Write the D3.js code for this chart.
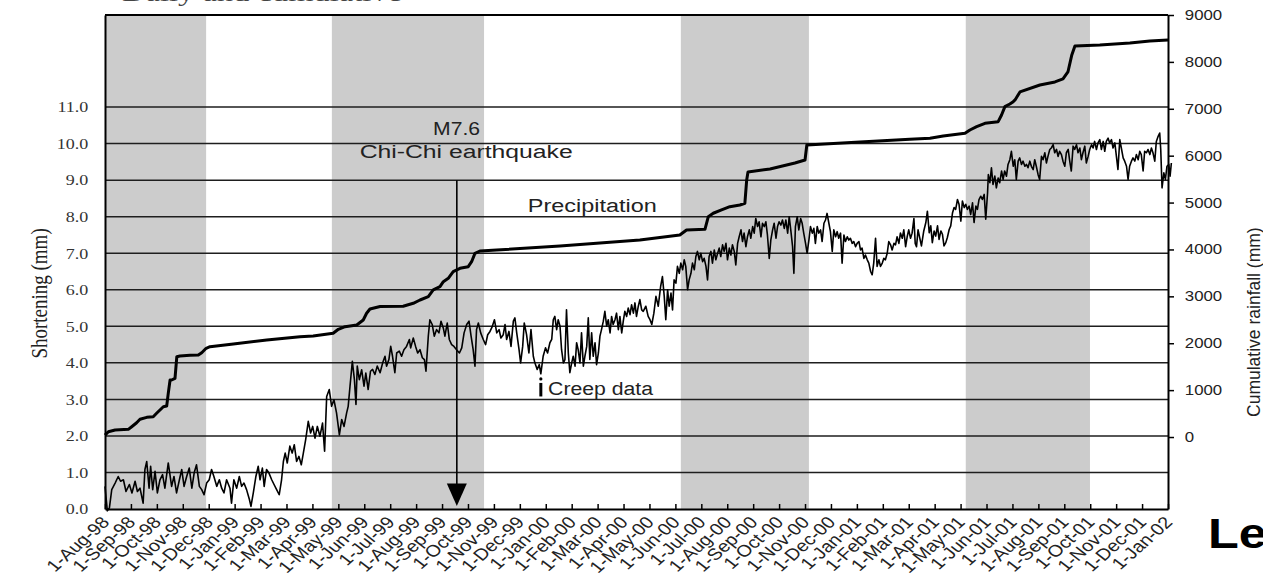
<!DOCTYPE html>
<html><head><meta charset="utf-8">
<script src="https://cdn.jsdelivr.net/npm/d3@7"></script>
<style>body{margin:0;background:#fff;} svg{display:block;}</style>
</head><body><svg id="c" width="1263" height="580"></svg>
<script>
// ---------------- DATA ----------------
const monthLabels = ["1-Aug-98","1-Sep-98","1-Oct-98","1-Nov-98","1-Dec-98",
 "1-Jan-99","1-Feb-99","1-Mar-99","1-Apr-99","1-May-99","1-Jun-99","1-Jul-99","1-Aug-99","1-Sep-99","1-Oct-99","1-Nov-99","1-Dec-99",
 "1-Jan-00","1-Feb-00","1-Mar-00","1-Apr-00","1-May-00","1-Jun-00","1-Jul-00","1-Aug-00","1-Sep-00","1-Oct-00","1-Nov-00","1-Dec-00",
 "1-Jan-01","1-Feb-01","1-Mar-01","1-Apr-01","1-May-01","1-Jun-01","1-Jul-01","1-Aug-01","1-Sep-01","1-Oct-01","1-Nov-01","1-Dec-01",
 "1-Jan-02"];
const shorteningTicks = [0,1,2,3,4,5,6,7,8,9,10,11];
const rainfallTicks = [0,1000,2000,3000,4000,5000,6000,7000,8000,9000];
// rainy-season shading, in months since 1-Aug-98
const rainySeasonStart = [0, 8.75, 22.21, 33.20];
const rainySeasonEnd   = [3.90, 14.62, 27.15, 37.99];
const quakeMonth = 13.57; // Chi-Chi earthquake, 21-Sep-99
// cumulative rainfall (mm): [month since 1-Aug-98, value]
const precipitation = [[0,40],[0.13,113],[0.39,149],[0.90,164],[1.03,220],[1.22,305],[1.35,378],[1.61,420],[1.86,433],[1.99,506],
 [2.12,576],[2.25,646],[2.38,661],[2.44,932],[2.51,1216],[2.57,1216],[2.70,1252],[2.77,1713],[2.89,1728],[3.28,1743],[3.60,1749],
 [3.73,1798],[3.90,1892],[4.05,1927],[4.95,1984],[6.24,2069],[7.52,2139],[8.03,2154],[8.80,2212],[9.00,2297],[9.26,2353],[9.71,2389],
 [9.96,2496],[10.09,2639],[10.22,2730],[10.61,2784],[11.50,2790],[11.89,2852],[12.15,2922],[12.47,2993],[12.66,3136],[12.92,3206],
 [13.05,3313],[13.24,3385],[13.43,3526],[13.69,3598],[14.01,3633],[14.14,3739],[14.27,3918],[14.46,3967],[15.11,3989],[17.55,4074],
 [19.09,4138],[20.63,4202],[22.17,4309],[22.43,4415],[23.14,4430],[23.27,4699],[23.46,4772],[23.78,4842],[24.10,4912],[24.49,4949],
 [24.68,4985],[24.75,5482],[24.80,5652],[25.65,5716],[26.61,5844],[27.00,5908],[27.07,6228],[29.12,6292],[31.04,6350],[31.82,6371],
 [32.33,6420],[33.17,6478],[33.36,6548],[33.62,6619],[33.94,6691],[34.45,6725],[34.58,6868],[34.71,7045],[34.90,7103],[35.03,7152],
 [35.10,7188],[35.29,7359],[36.06,7508],[36.64,7572],[36.95,7636],[37.14,7785],[37.29,8148],[37.41,8340],[38.37,8361],[39.53,8404],
 [40.30,8447],[41.00,8468]];
// creep (shortening, mm): [month since 1-Aug-98, value]
const creep = [[0.00,0.62],[0.09,-0.05],[0.17,0.03],[0.26,0.53],[0.39,0.71],[0.51,0.89],[0.60,0.76],[0.71,0.80],[0.81,0.48],[0.94,0.67],
 [1.04,0.44],[1.16,0.76],[1.25,0.48],[1.35,0.57],[1.47,0.16],[1.54,1.08],[1.61,1.30],[1.70,0.57],[1.76,1.17],[1.84,0.53],[1.93,1.03],
 [2.02,0.44],[2.12,0.80],[2.22,0.94],[2.31,0.57],[2.44,1.26],[2.57,0.62],[2.66,0.89],[2.76,0.44],[2.87,0.80],[2.96,1.08],[3.05,0.62],
 [3.15,0.89],[3.25,1.12],[3.35,0.57],[3.44,0.99],[3.53,1.21],[3.64,0.62],[3.73,0.53],[3.82,0.39],[3.92,0.71],[4.02,0.80],[4.11,1.08],
 [4.20,0.89],[4.31,0.62],[4.41,0.80],[4.50,0.57],[4.59,0.44],[4.69,0.80],[4.82,0.57],[4.88,0.16],[4.97,0.80],[5.08,0.57],[5.18,0.89],
 [5.27,0.62],[5.36,0.71],[5.46,0.53],[5.57,0.26],[5.63,0.07],[5.72,0.44],[5.82,0.89],[5.91,1.17],[5.98,0.80],[6.07,1.12],[6.14,0.62],
 [6.23,1.08],[6.32,0.99],[6.43,0.80],[6.52,0.67],[6.62,0.53],[6.72,0.39],[6.81,0.80],[6.88,1.30],[6.95,1.53],[7.03,1.26],[7.13,1.72],
 [7.22,1.53],[7.30,1.76],[7.39,1.30],[7.48,1.44],[7.57,1.21],[7.65,1.53],[7.74,1.90],[7.84,2.40],[7.93,2.08],[8.01,2.26],[8.10,1.94],
 [8.19,2.26],[8.29,1.99],[8.39,2.35],[8.47,1.58],[8.55,3.08],[8.65,3.27],[8.74,2.81],[8.83,2.99],[8.93,2.63],[9.04,2.03],[9.13,2.45],
 [9.22,2.26],[9.32,2.63],[9.38,2.81],[9.45,3.36],[9.54,4.04],[9.62,3.54],[9.68,2.86],[9.73,3.91],[9.81,3.54],[9.90,3.81],[9.99,3.36],
 [10.06,3.72],[10.15,3.27],[10.24,3.77],[10.32,3.82],[10.41,3.68],[10.50,3.91],[10.61,3.73],[10.71,4.00],[10.80,4.18],[10.86,3.91],
 [10.95,4.09],[11.02,4.45],[11.09,4.18],[11.18,3.73],[11.25,4.27],[11.35,4.32],[11.44,4.18],[11.53,4.36],[11.63,4.45],[11.74,4.64],
 [11.79,4.41],[11.89,4.68],[11.98,4.45],[12.06,4.27],[12.15,4.36],[12.24,4.14],[12.32,4.09],[12.38,3.77],[12.47,4.73],[12.53,5.18],
 [12.62,5.05],[12.70,4.73],[12.79,4.91],[12.88,4.82],[12.96,5.14],[13.05,4.95],[13.11,4.73],[13.20,5.09],[13.28,4.64],[13.37,4.50],
 [13.46,4.45],[13.56,4.36],[13.67,4.27],[13.76,4.41],[13.85,4.82],[13.95,5.05],[14.04,5.14],[14.12,4.73],[14.20,4.36],[14.27,3.91],
 [14.33,4.91],[14.40,5.09],[14.49,4.82],[14.59,4.64],[14.68,4.50],[14.76,4.77],[14.85,4.86],[14.94,5.00],[15.02,5.18],[15.11,4.82],
 [15.20,4.91],[15.27,4.68],[15.36,4.77],[15.43,5.05],[15.49,4.64],[15.58,4.86],[15.66,4.45],[15.75,5.14],[15.81,5.23],[15.88,4.82],
 [15.97,4.36],[16.03,4.00],[16.11,4.45],[16.17,5.09],[16.26,4.77],[16.35,4.27],[16.43,4.91],[16.52,4.18],[16.58,4.00],[16.67,3.82],
 [16.75,3.95],[16.81,3.70],[16.90,4.18],[16.99,4.41],[17.07,4.27],[17.16,4.55],[17.23,4.64],[17.29,5.18],[17.35,5.27],[17.42,4.91],
 [17.48,5.18],[17.55,5.00],[17.61,4.36],[17.68,4.00],[17.74,4.09],[17.80,5.45],[17.87,4.27],[17.93,3.73],[18.00,4.00],[18.06,4.18],
 [18.13,3.91],[18.19,4.55],[18.25,4.36],[18.32,4.00],[18.38,4.82],[18.45,3.91],[18.51,4.18],[18.58,4.45],[18.64,5.23],[18.70,4.09],
 [18.77,4.82],[18.83,4.18],[18.90,4.55],[18.96,3.95],[19.03,4.27],[19.09,4.73],[19.15,4.91],[19.22,5.14],[19.28,5.41],[19.35,5.00],
 [19.41,5.18],[19.48,4.82],[19.54,5.27],[19.60,5.05],[19.67,5.18],[19.73,5.36],[19.80,4.91],[19.86,5.27],[19.93,4.82],[19.99,5.14],
 [20.05,5.41],[20.12,5.27],[20.18,5.50],[20.25,5.32],[20.31,5.59],[20.38,5.36],[20.44,5.64],[20.50,5.27],[20.57,5.55],[20.63,5.73],
 [20.70,5.45],[20.76,5.41],[20.86,5.55],[20.95,5.27],[21.02,5.18],[21.09,5.05],[21.17,5.36],[21.25,5.82],[21.34,5.55],[21.43,6.09],
 [21.50,6.36],[21.57,5.82],[21.63,5.18],[21.70,6.00],[21.76,5.55],[21.83,5.91],[21.89,5.45],[21.95,6.27],[22.02,6.18],[22.08,6.64],
 [22.15,6.45],[22.21,6.73],[22.28,6.55],[22.34,6.82],[22.40,6.64],[22.47,6.00],[22.53,6.27],[22.60,6.45],[22.66,6.73],[22.73,6.55],
 [22.79,6.91],[22.85,7.05],[22.92,6.82],[22.98,7.00],[23.05,6.77],[23.11,6.86],[23.18,6.64],[23.24,6.27],[23.30,6.91],[23.37,7.05],
 [23.43,6.73],[23.50,7.09],[23.56,6.82],[23.63,7.00],[23.69,7.14],[23.75,6.91],[23.82,7.23],[23.88,7.05],[23.95,7.27],[24.01,6.82],
 [24.08,7.14],[24.14,6.95],[24.20,7.23],[24.27,7.05],[24.33,6.68],[24.40,7.27],[24.46,7.45],[24.53,7.64],[24.59,7.32],[24.65,7.55],
 [24.72,7.18],[24.78,7.45],[24.85,7.64],[24.91,7.41],[24.98,7.73],[25.04,7.55],[25.10,7.95],[25.17,7.73],[25.23,7.86],[25.30,7.45],
 [25.36,7.82],[25.43,7.73],[25.49,7.86],[25.55,7.50],[25.62,6.86],[25.68,7.36],[25.75,7.64],[25.81,7.82],[25.88,7.41],[25.94,7.73],
 [26.00,7.86],[26.07,7.77],[26.13,7.91],[26.20,7.68],[26.26,7.91],[26.33,7.55],[26.39,8.00],[26.45,7.64],[26.52,7.18],[26.57,6.45],
 [26.63,7.73],[26.70,8.00],[26.76,7.64],[26.83,7.95],[26.89,7.82],[26.95,7.55],[27.02,7.27],[27.08,7.00],[27.15,7.36],[27.21,7.73],
 [27.28,7.55],[27.34,7.68],[27.40,7.27],[27.47,7.73],[27.53,7.55],[27.60,7.64],[27.66,7.32],[27.73,7.82],[27.79,7.91],[27.85,8.09],
 [27.92,7.82],[27.98,7.59],[28.05,7.05],[28.11,7.64],[28.18,7.45],[28.24,7.59],[28.30,7.41],[28.37,7.55],[28.43,6.73],[28.50,7.50],
 [28.56,7.32],[28.63,7.45],[28.69,7.36],[28.75,7.41],[28.82,7.27],[28.88,7.32],[28.95,7.18],[29.01,7.27],[29.08,7.32],[29.14,7.09],
 [29.20,7.14],[29.27,6.86],[29.33,6.95],[29.40,6.82],[29.46,6.73],[29.53,6.50],[29.59,6.41],[29.65,6.73],[29.72,7.41],[29.78,6.64],
 [29.85,6.82],[29.91,6.64],[29.98,6.73],[30.04,6.86],[30.10,6.82],[30.17,7.00],[30.23,7.32],[30.30,7.23],[30.36,7.09],[30.43,7.27],
 [30.49,7.23],[30.55,7.45],[30.62,7.27],[30.68,7.55],[30.75,7.41],[30.81,7.64],[30.88,7.18],[30.94,7.45],[31.00,7.64],[31.07,7.41],
 [31.13,7.55],[31.20,7.95],[31.25,7.27],[31.30,7.18],[31.36,7.64],[31.49,7.20],[31.58,7.61],[31.66,7.84],[31.72,8.15],[31.79,7.56],
 [31.85,7.75],[31.91,7.29],[31.98,7.61],[32.04,7.47],[32.11,7.75],[32.17,7.38],[32.24,7.61],[32.30,7.52],[32.36,7.20],[32.43,7.29],
 [32.49,7.43],[32.56,7.65],[32.62,7.75],[32.69,8.11],[32.75,8.25],[32.81,8.20],[32.88,8.47],[32.94,8.34],[33.01,7.88],[33.07,8.43],
 [33.14,8.25],[33.20,8.34],[33.26,8.20],[33.33,8.29],[33.39,8.06],[33.46,8.38],[33.52,7.84],[33.59,8.29],[33.65,8.20],[33.71,8.47],
 [33.78,8.56],[33.84,8.47],[33.91,8.61],[33.97,7.93],[34.04,8.65],[34.07,9.15],[34.13,8.93],[34.19,9.34],[34.25,8.88],[34.32,9.11],
 [34.38,8.79],[34.45,9.06],[34.51,8.93],[34.58,9.25],[34.64,9.02],[34.70,9.25],[34.77,9.11],[34.83,9.43],[34.90,9.56],[34.96,9.79],
 [35.03,9.38],[35.09,9.56],[35.15,9.02],[35.22,9.52],[35.28,9.61],[35.35,9.43],[35.41,9.52],[35.48,9.38],[35.54,9.43],[35.60,9.34],
 [35.67,9.52],[35.73,9.38],[35.80,9.29],[35.86,9.56],[35.92,9.38],[35.99,9.15],[36.05,9.02],[36.12,9.65],[36.18,9.56],[36.25,9.75],
 [36.31,9.47],[36.37,9.65],[36.44,9.84],[36.50,9.88],[36.57,9.97],[36.63,9.75],[36.70,9.84],[36.76,9.65],[36.82,9.79],[36.89,9.70],
 [36.95,9.52],[37.02,9.38],[37.08,9.75],[37.15,9.84],[37.21,9.52],[37.27,9.25],[37.34,9.93],[37.40,9.84],[37.47,9.97],[37.53,9.75],
 [37.60,9.88],[37.66,9.56],[37.72,9.75],[37.79,9.93],[37.85,9.47],[37.92,9.65],[37.98,9.84],[38.05,9.97],[38.11,9.88],[38.17,10.06],
 [38.24,9.84],[38.30,10.02],[38.37,10.11],[38.43,9.84],[38.50,10.06],[38.56,9.79],[38.62,10.06],[38.69,10.15],[38.75,10.02],[38.82,10.11],
 [38.88,9.88],[38.95,10.02],[39.01,9.65],[39.07,9.29],[39.14,10.11],[39.20,9.88],[39.27,9.61],[39.33,9.52],[39.40,9.38],[39.46,9.02],
 [39.52,9.38],[39.59,9.52],[39.65,9.61],[39.72,9.52],[39.78,9.70],[39.85,9.56],[39.91,9.79],[39.97,9.70],[40.04,9.25],[40.10,9.79],
 [40.17,9.75],[40.23,9.84],[40.30,9.70],[40.36,9.88],[40.42,9.75],[40.49,9.52],[40.55,10.06],[40.62,10.20],[40.68,10.29],[40.72,9.84],
 [40.77,8.79],[40.84,9.20],[40.90,9.02],[40.96,9.38],[41.03,9.43],[41.08,9.11],[41.13,9.47]];

// ---------------- CHART ----------------
const svg = d3.select("#c");
const L = 105, R = 1168, T = 15, B = 509;
const SX = 1.2; // horizontal glyph stretch of the original figure
const x = d3.scaleLinear().domain([0, 41]).range([L, R]);
const yL = d3.scaleLinear().domain([0, 13.52]).range([B, T]);
const yR = d3.scaleLinear().domain([-1535, 9000]).range([B, T]);
const sans = "'Liberation Sans', Arial, sans-serif";
const serif = "'Liberation Serif', 'Times New Roman', serif";

// rainy-season bands
svg.append("g").selectAll("rect").data(rainySeasonStart).join("rect")
  .attr("x", (d) => x(d)).attr("y", T)
  .attr("width", (d, i) => x(rainySeasonEnd[i]) - x(d)).attr("height", B - T)
  .attr("fill", "#cccccc");

// horizontal grid lines
svg.append("g").selectAll("line").data(shorteningTicks.filter(d => d > 0)).join("line")
  .attr("x1", L).attr("x2", R).attr("y1", d => yL(d)).attr("y2", d => yL(d))
  .attr("stroke", "#1e1e1e").attr("stroke-width", 1.5);

// precipitation line
svg.append("path").datum(precipitation)
  .attr("d", d3.line().x(d => x(d[0])).y(d => yR(d[1])))
  .attr("fill", "none").attr("stroke", "#000").attr("stroke-width", 3).attr("stroke-linejoin", "round");

// creep line
svg.append("path").datum(creep)
  .attr("d", d3.line().x(d => x(d[0])).y(d => yL(d[1])))
  .attr("fill", "none").attr("stroke", "#000").attr("stroke-width", 1.6).attr("stroke-linejoin", "round");

// frame
svg.append("line").attr("x1", L).attr("x2", R).attr("y1", T).attr("y2", T).attr("stroke", "#000").attr("stroke-width", 2);

// left axis
const gl = svg.append("g").attr("transform", `translate(${L},0)`)
  .call(d3.axisLeft(yL).tickValues(shorteningTicks).tickFormat(d => d.toFixed(1)).tickSize(0).tickPadding(14));
gl.select(".domain").attr("stroke", "#000").attr("stroke-width", 2);
gl.selectAll("text").attr("font-family", serif).attr("font-size", 15).attr("fill", "#333")
  .attr("transform", `scale(${SX},1)`);

// right axis
const gr = svg.append("g").attr("transform", `translate(${R},0)`)
  .call(d3.axisRight(yR).tickValues(rainfallTicks).tickFormat(d3.format("d")).tickSizeInner(6).tickSizeOuter(0).tickPadding(8));
gr.select(".domain").attr("stroke", "#000").attr("stroke-width", 2);
gr.selectAll(".tick line").attr("stroke", "#000").attr("stroke-width", 1.5);
gr.selectAll("text").attr("font-family", sans).attr("font-size", 14).attr("fill", "#222")
  .attr("transform", `scale(${SX},1)`);

// bottom axis
const gb = svg.append("g").attr("transform", `translate(0,${B})`)
  .call(d3.axisBottom(x).tickValues(d3.range(monthLabels.length)).tickFormat(i => monthLabels[i])
    .tickSizeInner(-5).tickSizeOuter(0).tickPadding(0));
gb.select(".domain").attr("stroke", "#000").attr("stroke-width", 2);
gb.selectAll(".tick line").attr("stroke", "#000").attr("stroke-width", 1.5);
gb.selectAll("text").attr("font-family", sans).attr("font-size", 16.5).attr("fill", "#222")
  .attr("text-anchor", "end").attr("y", 0).attr("dy", 0)
  .attr("transform", `translate(5,14) scale(${SX},1) rotate(-47)`);

// axis titles
svg.append("text").attr("font-family", serif).attr("font-size", 19).attr("fill", "#222")
  .attr("text-anchor", "middle")
  .attr("transform", `translate(47,${yL(5.9)}) scale(${SX},1) rotate(-90)`).text("Shortening (mm)");
svg.append("text").attr("font-family", sans).attr("font-size", 17.5).attr("fill", "#222")
  .attr("text-anchor", "middle")
  .attr("transform", `translate(1260,${yR(2450)}) rotate(-90)`).text("Cumulative rainfall (mm)");

// earthquake arrow
const qx = x(quakeMonth);
svg.append("line").attr("x1", qx).attr("x2", qx).attr("y1", yL(9)).attr("y2", yL(0.6))
  .attr("stroke", "#000").attr("stroke-width", 1.6);
svg.append("path")
  .attr("d", `M${qx - 10},${yL(0.7)} L${qx + 10},${yL(0.7)} L${qx},${yL(0.08)} Z`)
  .attr("fill", "#000");

// annotations
function note(str, cx, cy, len, anchor) {
  svg.append("text").attr("x", cx).attr("y", cy).attr("font-family", sans).attr("font-size", 18)
    .attr("fill", "#222").attr("text-anchor", anchor || "start")
    .attr("textLength", len).attr("lengthAdjust", "spacingAndGlyphs").text(str);
}
note("M7.6", x(13.56), yL(10.23), 47, "middle");
note("Chi-Chi earthquake", x(13.93), yL(9.62), 213, "middle");
note("Precipitation", x(16.31), yL(8.12), 129);
note("Creep data", x(17.09), yL(3.12), 105);
// small leader mark next to the creep label
svg.append("line").attr("x1", x(16.81)).attr("x2", x(16.81)).attr("y1", yL(3.45)).attr("y2", yL(3.08))
  .attr("stroke", "#000").attr("stroke-width", 3);
svg.append("circle").attr("cx", x(16.81)).attr("cy", yL(3.56)).attr("r", 1.6).attr("fill", "#000");

// cut-off page fragments
svg.append("text").attr("x", 122).attr("y", 1).attr("font-family", serif)
  .attr("font-size", 24).attr("fill", "#444").attr("textLength", 280).attr("lengthAdjust", "spacingAndGlyphs")
  .text("Daily and cumulative");
svg.append("text").attr("x", 1208).attr("y", 548).attr("font-family", sans).attr("font-weight", "bold")
  .attr("font-size", 42).attr("fill", "#000").attr("transform", "translate(-241.6,0) scale(1.2,1)")
  .text("Le");
svg.append("text").attr("x", -26).attr("y", 24).attr("font-family", sans).attr("font-weight", "bold")
  .attr("font-size", 44).attr("fill", "#000").text("b");
</script></body></html>
